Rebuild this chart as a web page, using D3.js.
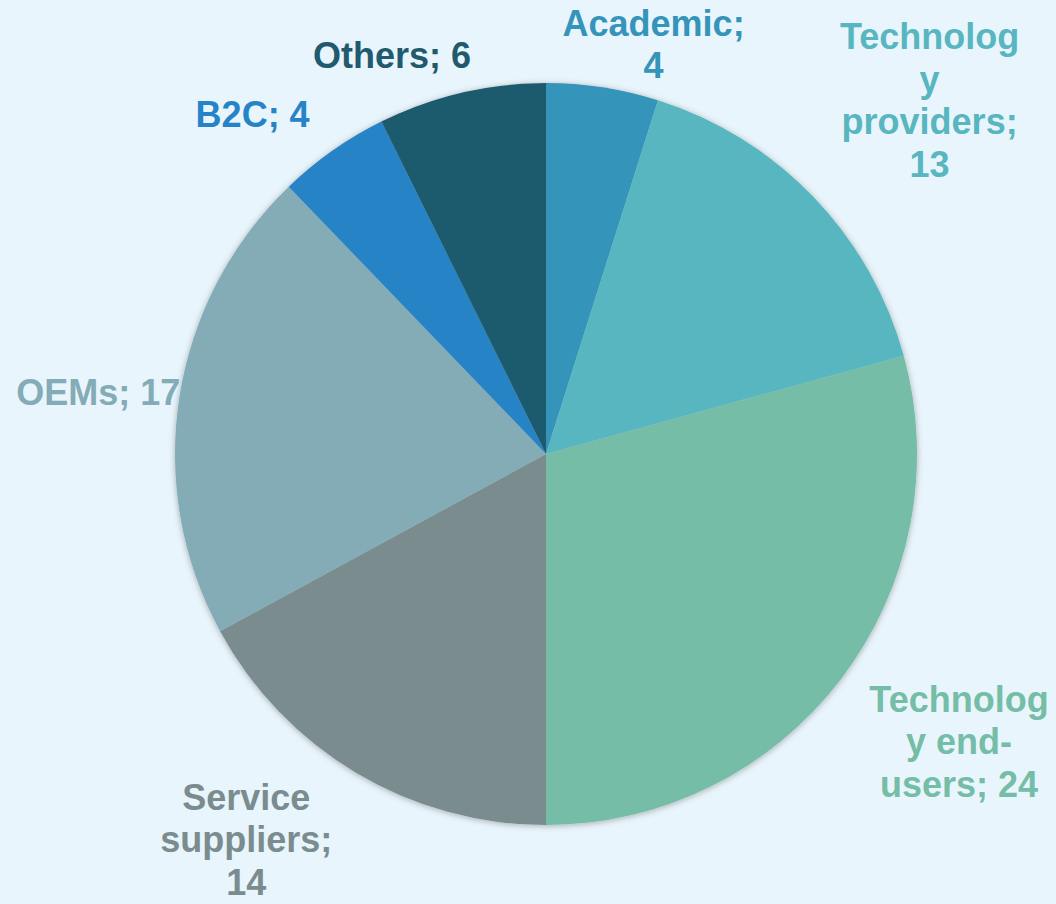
<!DOCTYPE html>
<html><head><meta charset="utf-8">
<script src="https://cdn.jsdelivr.net/npm/d3@7"></script>
<style>html,body{margin:0;padding:0;background:#E9F5FC;}svg{display:block;}</style>
</head><body>
<svg id="chart" width="1056" height="904"></svg>
<script>
const categories = ["Academic", "Technology providers", "Technology end-users", "Service suppliers", "OEMs", "B2C", "Others"];
const values = [4, 13, 24, 14, 17, 4, 6];
const colors = ["#3494BA", "#58B6C0", "#75BDA7", "#7A8C8E", "#84ACB6", "#2683C6", "#1F5A6E"];
const labelLines = [
  ["Academic;", "4"],
  ["Technolog", "y", "providers;", "13"],
  ["Technolog", "y end-", "users; 24"],
  ["Service", "suppliers;", "14"],
  ["OEMs; 17"],
  ["B2C; 4"],
  ["Others; 6"]
];

// layout (label block centre: angle in degrees clockwise from top, distance from pie centre)
const labelLayout = [
  {a: 14.7, r: 424}, {a: 47.3, r: 522}, {a: 124.8, r: 503}, {a: 217.9, r: 488},
  {a: 277.9, r: 452}, {a: 319.2, r: 449}, {a: 338.9, r: 428}
];

const W = 1056, H = 904, cx = 546, cy = 454, R = 371;
const fontSize = 36, lineH = 42.5;
const svg = d3.select("#chart");
svg.append("rect").attr("width", W).attr("height", H).attr("fill", "#E9F5FC");

const defs = svg.append("defs");
const f = defs.append("filter").attr("id", "sh").attr("x", "-10%").attr("y", "-10%").attr("width", "120%").attr("height", "120%");
f.append("feDropShadow").attr("dx", 0).attr("dy", 1).attr("stdDeviation", 3).attr("flood-color", "#000").attr("flood-opacity", 0.3);

const data = categories.map((c, i) => ({cat: c, value: values[i], color: colors[i], lines: labelLines[i], lay: labelLayout[i]}));
const pie = d3.pie().sort(null).value(d => d.value);
const arc = d3.arc().innerRadius(0).outerRadius(R);
const arcs = pie(data);

const g = svg.append("g").attr("transform", `translate(${cx},${cy})`);
g.append("g").attr("filter", "url(#sh)")
  .selectAll("path").data(arcs).join("path")
  .attr("d", arc).attr("fill", d => d.data.color);

const lg = g.append("g");
arcs.forEach(d => {
  const a = d.data.lay.a * Math.PI / 180, r = d.data.lay.r;
  const x = r * Math.sin(a), y = -r * Math.cos(a);
  const n = d.data.lines.length;
  const t = lg.append("text")
    .attr("text-anchor", "middle")
    .attr("font-family", "Liberation Sans, Arial, sans-serif")
    .attr("font-weight", "bold")
    .attr("font-size", fontSize)
    .attr("fill", d.data.color);
  d.data.lines.forEach((ln, i) => {
    t.append("tspan").attr("x", x)
      .attr("y", y + (i - (n - 1) / 2) * lineH + 13)
      .text(ln);
  });
});
</script>
</body></html>
